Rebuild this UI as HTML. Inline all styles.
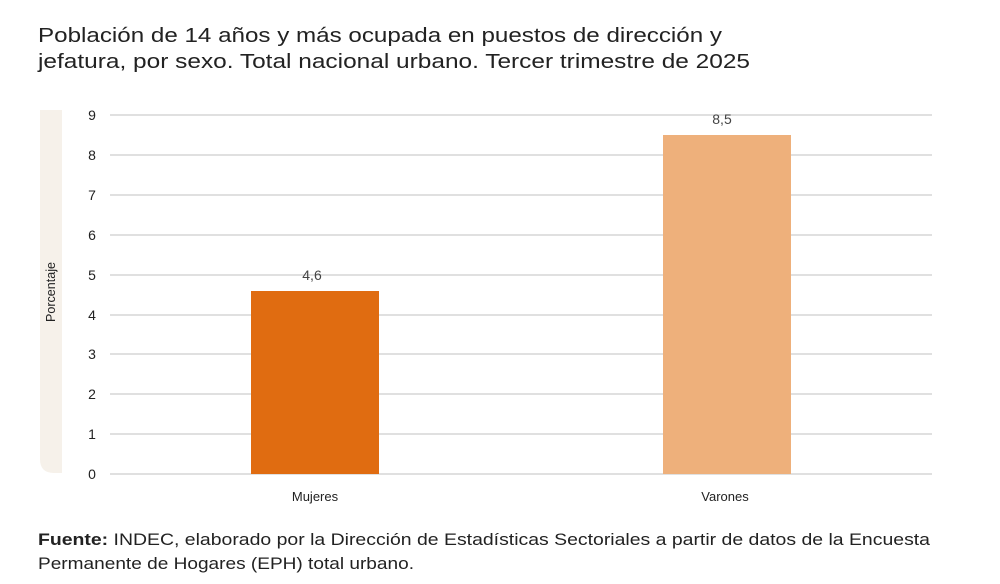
<!DOCTYPE html>
<html><head><meta charset="utf-8"><style>
html,body{margin:0;padding:0;background:#fff;}
svg{display:block;font-family:"Liberation Sans",sans-serif;}
</style></head><body>
<svg width="1000" height="584" viewBox="0 0 1000 584" xmlns="http://www.w3.org/2000/svg">
<rect width="1000" height="584" fill="#fff"/>
<text x="38" y="42" font-size="20" fill="#222" textLength="684" lengthAdjust="spacingAndGlyphs">Población de 14 años y más ocupada en puestos de dirección y</text>
<text x="38" y="68" font-size="20" fill="#222" textLength="712" lengthAdjust="spacingAndGlyphs">jefatura, por sexo. Total nacional urbano. Tercer trimestre de 2025</text>
<path d="M40 110 H62 V473 H54 Q40 473 40 459 Z" fill="#f6f1ea"/>
<text transform="translate(55,292) rotate(-90)" text-anchor="middle" font-size="13" fill="#222" textLength="60" lengthAdjust="spacingAndGlyphs">Porcentaje</text>
<g stroke="#d6d6d6" stroke-width="1.5">
<line x1="110" x2="932" y1="115" y2="115"/><line x1="110" x2="932" y1="155" y2="155"/>
<line x1="110" x2="932" y1="195" y2="195"/><line x1="110" x2="932" y1="235" y2="235"/>
<line x1="110" x2="932" y1="275" y2="275"/><line x1="110" x2="932" y1="315" y2="315"/>
<line x1="110" x2="932" y1="354" y2="354"/><line x1="110" x2="932" y1="394" y2="394"/>
<line x1="110" x2="932" y1="434" y2="434"/><line x1="110" x2="932" y1="474" y2="474"/>
</g>
<g font-size="14" fill="#222" text-anchor="middle">
<text x="92" y="120">9</text><text x="92" y="160">8</text><text x="92" y="200">7</text>
<text x="92" y="240">6</text><text x="92" y="280">5</text><text x="92" y="320">4</text>
<text x="92" y="359">3</text><text x="92" y="399">2</text><text x="92" y="439">1</text>
<text x="92" y="479">0</text>
</g>
<rect x="251" y="291" width="128" height="183" fill="#e06c11"/>
<rect x="663" y="135" width="128" height="339" fill="#eeb07b"/>
<g font-size="14" fill="#444" text-anchor="middle">
<text x="312" y="280">4,6</text><text x="722" y="124">8,5</text>
</g>
<g font-size="13" fill="#222" text-anchor="middle">
<text x="315" y="501">Mujeres</text><text x="725" y="501">Varones</text>
</g>
<text x="38" y="545" font-size="17" fill="#222" textLength="892" lengthAdjust="spacingAndGlyphs"><tspan font-weight="bold">Fuente:</tspan> INDEC, elaborado por la Dirección de Estadísticas Sectoriales a partir de datos de la Encuesta</text>
<text x="38" y="569" font-size="17" fill="#222" textLength="376" lengthAdjust="spacingAndGlyphs">Permanente de Hogares (EPH) total urbano.</text>
</svg>
</body></html>
